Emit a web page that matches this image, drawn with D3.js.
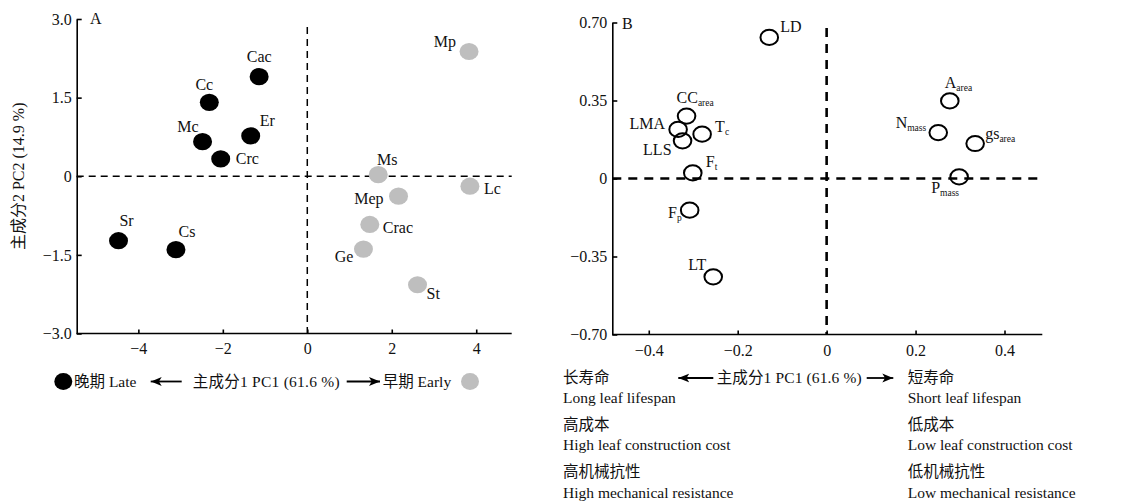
<!DOCTYPE html>
<html>
<head>
<meta charset="utf-8">
<script src="https://cdn.jsdelivr.net/npm/d3@7"></script>
<style>
  html, body { margin: 0; padding: 0; background: #fff; }
  svg { display: block; }
  .axis path, .axis line { stroke: #000; stroke-width: 1.6; }
  .axis text { font-family: "Liberation Serif", "Times New Roman", serif; font-size: 16px; fill: #111; }
  text { font-family: "Liberation Serif", "Times New Roman", "Noto Sans CJK SC", serif; fill: #111; }
</style>
</head>
<body>
<div id="chart"></div>
<script>
// Panel A: species scores
const speciesA = ["Cac", "Cc", "Mc", "Er", "Crc", "Sr", "Cs", "Mp", "Ms", "Lc", "Mep", "Crac", "Ge", "St"];
const pc1A = [-1.14, -2.32, -2.48, -1.34, -2.05, -4.47, -3.11, 3.83, 1.68, 3.85, 2.16, 1.48, 1.33, 2.61];
const pc2A = [1.90, 1.41, 0.66, 0.77, 0.33, -1.23, -1.40, 2.38, 0.03, -0.19, -0.38, -0.92, -1.39, -2.07];
const groupA = ["late", "late", "late", "late", "late", "late", "late",
  "early", "early", "early", "early", "early", "early", "early"];
const ticksAX = [-4, -2, 0, 2, 4];
const ticksAY = [-3.0, -1.5, 0, 1.5, 3.0];

// Panel B: trait loadings
const traitMain = ["LD", "CC", "LMA", "T", "LLS", "F", "F", "LT", "A", "N", "gs", "P"];
const traitSub = ["", "area", "", "c", "", "t", "p", "", "area", "mass", "area", "mass"];
const pc1B = [-0.129, -0.315, -0.334, -0.280, -0.324, -0.301, -0.308, -0.255, 0.277, 0.251, 0.334, 0.298];
const pc2B = [0.633, 0.280, 0.220, 0.199, 0.169, 0.025, -0.142, -0.441, 0.348, 0.206, 0.157, 0.007];
const ticksBX = [-0.4, -0.2, 0, 0.2, 0.4];
const ticksBY = [-0.70, -0.35, 0, 0.35, 0.70];

const leftNotes = ["长寿命", "Long leaf lifespan", "高成本", "High leaf construction cost", "高机械抗性", "High mechanical resistance"];
const rightNotes = ["短寿命", "Short leaf lifespan", "低成本", "Low leaf construction cost", "低机械抗性", "Low mechanical resistance"];

// label placement relative to the point (layout only)
const labelPosA = {
  Cac: [0, -15, "middle"], Cc: [-5, -12, "middle"], Mc: [-4, -10, "end"], Er: [9, -10, "start"],
  Crc: [15, 5, "start"], Sr: [8, -15, "middle"], Cs: [11, -13, "middle"], Mp: [-13, -4, "end"],
  Ms: [9, -10, "middle"], Lc: [14, 8, "start"], Mep: [-15, 8, "end"], Crac: [13, 9, "start"],
  Ge: [-10, 13, "end"], St: [9, 14, "start"],
};
const labelPosB = [
  [11, -5, "start"], [-10, -13, "start"], [-13, 0, "end"], [13, -2, "start"], [-11, 14, "end"],
  [13, -6, "start"], [-8, 8, "end"], [-7, -7, "end"], [-5, -13, "start"], [-12, -5, "end"],
  [10, -5, "start"], [-28, 16, "start"],
];

const COLORS = { late: "#000", early: "#bebebe" };

const svg = d3.select("#chart").append("svg")
  .attr("width", 1136).attr("height", 504);

const defs = svg.append("defs");
defs.append("marker")
  .attr("id", "arrow")
  .attr("viewBox", "0 0 10 10")
  .attr("refX", 10).attr("refY", 5)
  .attr("markerWidth", 11).attr("markerHeight", 11)
  .attr("markerUnits", "userSpaceOnUse")
  .attr("orient", "auto")
  .append("path").attr("d", "M0,1 L10,5 L0,9 L2.5,5 Z").attr("fill", "#000");

function drawAxes(x, y, xt, yt, fx, fy, padX) {
  const [x0] = x.range();
  const [y0] = y.range();
  svg.append("g").attr("class", "axis")
    .attr("transform", `translate(0,${y0})`)
    .call(d3.axisBottom(x).tickValues(xt).tickSizeInner(-4).tickSizeOuter(0).tickPadding(padX).tickFormat(fx))
    .call((g) => g.select(".domain").attr("d", `M${x.range()[0]},0H${x.range()[1]}`));
  svg.append("g").attr("class", "axis")
    .attr("transform", `translate(${x0},0)`)
    .call(d3.axisLeft(y).tickValues(yt).tickSizeInner(-5).tickSizeOuter(0).tickPadding(5).tickFormat(fy));
}

function dashed(x, y, top, dash, width) {
  svg.append("line")
    .attr("x1", x.range()[0]).attr("x2", x.range()[1])
    .attr("y1", y(0)).attr("y2", y(0))
    .attr("stroke", "#000").attr("stroke-width", width).attr("stroke-dasharray", dash);
  svg.append("line")
    .attr("x1", x(0)).attr("x2", x(0))
    .attr("y1", top).attr("y2", y.range()[0])
    .attr("stroke", "#000").attr("stroke-width", width).attr("stroke-dasharray", dash);
}

function arrow(xFrom, xTo, yPos) {
  svg.append("line")
    .attr("x1", xFrom).attr("x2", xTo).attr("y1", yPos).attr("y2", yPos)
    .attr("stroke", "#000").attr("stroke-width", 1.8)
    .attr("marker-end", "url(#arrow)");
}

const minus = (s) => s.replace("-", "\u2212");

// ---------- Panel A ----------
const xA = d3.scaleLinear().domain([-5.46, 4.84]).range([76.7, 511.7]);
const yA = d3.scaleLinear().domain([-3, 3]).range([333.5, 19]);

dashed(xA, yA, 27, "7,5", 1.5);
drawAxes(xA, yA, ticksAX, ticksAY,
  (d) => minus(d3.format("d")(d)),
  (d) => (d === 0 ? "0" : minus(d3.format(".1f")(d))), 9);

const ptsA = speciesA.map((name, i) => ({ name, x: pc1A[i], y: pc2A[i], g: groupA[i] }));

svg.append("g").selectAll("ellipse").data(ptsA).join("ellipse")
  .attr("cx", (d) => xA(d.x)).attr("cy", (d) => yA(d.y))
  .attr("rx", 9.5).attr("ry", 8.6)
  .attr("fill", (d) => COLORS[d.g]);

svg.append("g").selectAll("text").data(ptsA).join("text")
  .attr("x", (d) => xA(d.x) + labelPosA[d.name][0])
  .attr("y", (d) => yA(d.y) + labelPosA[d.name][1])
  .attr("text-anchor", (d) => labelPosA[d.name][2])
  .attr("font-size", 16)
  .text((d) => d.name);

svg.append("text").attr("x", 90).attr("y", 24).attr("font-size", 16).text("A");

svg.append("text")
  .attr("transform", `translate(24,${yA(0)}) rotate(-90)`)
  .attr("text-anchor", "middle")
  .attr("font-size", 16)
  .attr("fill", "#222")
  .text("主成分2 PC2 (14.9 %)");

// legend row under A
const legY = 381.5;
svg.append("ellipse").attr("cx", 63.3).attr("cy", legY).attr("rx", 9).attr("ry", 8.5).attr("fill", COLORS.late);
svg.append("ellipse").attr("cx", 470).attr("cy", legY).attr("rx", 9).attr("ry", 8.5).attr("fill", COLORS.early);
svg.append("text").attr("x", 74).attr("y", legY + 5).attr("font-size", 15.5).text("晚期 Late");
arrow(181.7, 150.7, legY);
svg.append("text").attr("x", 192.7).attr("y", legY + 5).attr("font-size", 15.5).attr("textLength", 147).text("主成分1 PC1 (61.6 %)");
arrow(346.7, 380, legY);
svg.append("text").attr("x", 382.7).attr("y", legY + 5).attr("font-size", 15.5).text("早期 Early");

// ---------- Panel B ----------
const xB = d3.scaleLinear().domain([-0.482, 0.485]).range([612.3, 1042.3]);
const yB = d3.scaleLinear().domain([-0.7, 0.7]).range([334.5, 22.5]);

dashed(xB, yB, 28, "9,7", 2.6);
drawAxes(xB, yB, ticksBX, ticksBY,
  (d) => (d === 0 ? "0" : minus(d3.format(".1f")(d))),
  (d) => (d === 0 ? "0" : minus(d3.format(".2f")(d))), 10);

const ptsB = traitMain.map((m, i) => ({ m, s: traitSub[i], x: pc1B[i], y: pc2B[i], pos: labelPosB[i] }));

svg.append("g").selectAll("ellipse").data(ptsB).join("ellipse")
  .attr("cx", (d) => xB(d.x)).attr("cy", (d) => yB(d.y))
  .attr("rx", 8.8).attr("ry", 7.6)
  .attr("fill", "none").attr("stroke", "#000").attr("stroke-width", 2);

const labB = svg.append("g").selectAll("text").data(ptsB).join("text")
  .attr("x", (d) => xB(d.x) + d.pos[0])
  .attr("y", (d) => yB(d.y) + d.pos[1])
  .attr("text-anchor", (d) => d.pos[2])
  .attr("font-size", 16);
labB.append("tspan").text((d) => d.m);
labB.filter((d) => d.s).append("tspan")
  .attr("font-size", 9.5).attr("dy", 3)
  .text((d) => d.s);

svg.append("text").attr("x", 622).attr("y", 29).attr("font-size", 16).text("B");

// notes under B
const noteY = [383, 403, 430, 450, 477, 498];
svg.append("g").selectAll("text").data(leftNotes).join("text")
  .attr("x", 563).attr("y", (d, i) => noteY[i]).attr("font-size", 15.5).text((d) => d);
svg.append("g").selectAll("text").data(rightNotes).join("text")
  .attr("x", 907.7).attr("y", (d, i) => noteY[i]).attr("font-size", 15.5).text((d) => d);
arrow(713.3, 678.3, 378);
svg.append("text").attr("x", 716.7).attr("y", 383).attr("font-size", 15.5).attr("textLength", 145).text("主成分1 PC1 (61.6 %)");
arrow(866.7, 893.3, 378);
</script>
</body>
</html>
